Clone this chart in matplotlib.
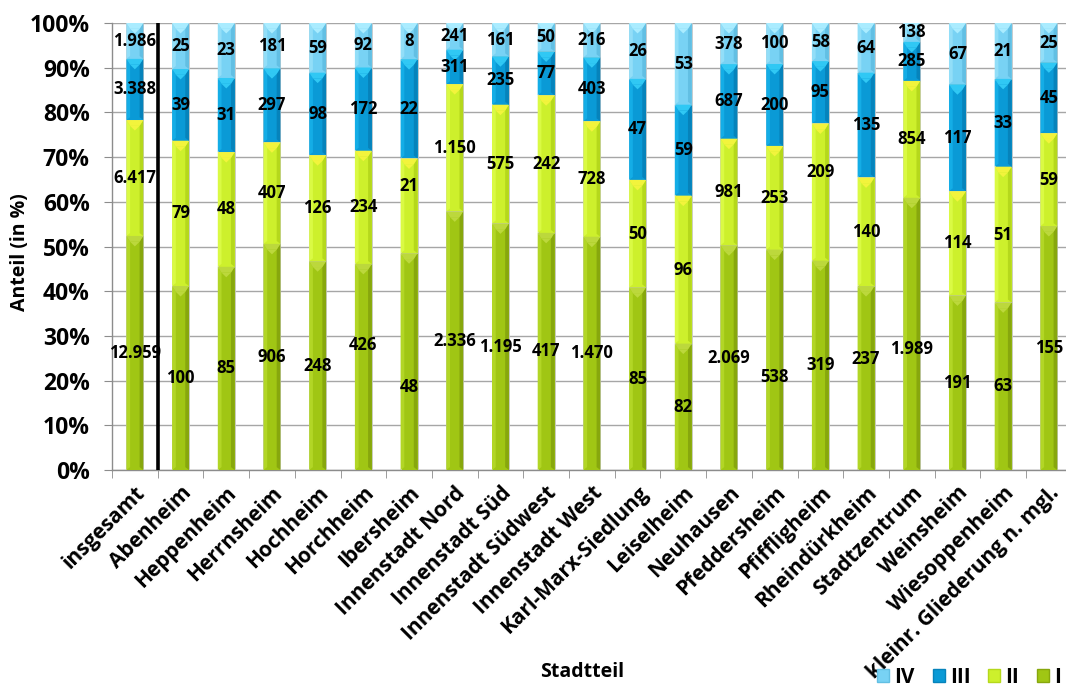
import matplotlib
matplotlib.use("Agg")
import matplotlib.pyplot as plt
from matplotlib.patches import Polygon, Patch

plt.rcParams['font.family'] = ['Open Sans', 'DejaVu Sans']
plt.rcParams['font.weight'] = 'bold'

districts = [
    "insgesamt", "Abenheim", "Heppenheim", "Herrnsheim", "Hochheim", "Horchheim",
    "Ibersheim", "Innenstadt Nord", "Innenstadt Süd", "Innenstadt Südwest",
    "Innenstadt West", "Karl-Marx-Siedlung", "Leiselheim", "Neuhausen",
    "Pfeddersheim", "Pfiffligheim", "Rheindürkheim", "Stadtzentrum", "Weinsheim",
    "Wiesoppenheim", "kleinr. Gliederung n. mgl.",
]
klasse_I = [12959, 100, 85, 906, 248, 426, 48, 2336, 1195, 417, 1470, 85, 82,
            2069, 538, 319, 237, 1989, 191, 63, 155]
klasse_II = [6417, 79, 48, 407, 126, 234, 21, 1150, 575, 242, 728, 50, 96,
             981, 253, 209, 140, 854, 114, 51, 59]
klasse_III = [3388, 39, 31, 297, 98, 172, 22, 311, 235, 77, 403, 47, 59,
              687, 200, 95, 135, 285, 117, 33, 45]
klasse_IV = [1986, 25, 23, 181, 59, 92, 8, 241, 161, 50, 216, 26, 53,
             378, 100, 58, 64, 138, 67, 21, 25]
series_names = ["I", "II", "III", "IV"]
series_values = [klasse_I, klasse_II, klasse_III, klasse_IV]

# base, light side, dark side, top facet
palette = {
    "I":   ("#a0c614", "#b2d626", "#87a70d", "#bcd83c"),
    "II":  ("#cdf02c", "#dafa44", "#b5d81c", "#f2f43c"),
    "III": ("#0a9ad6", "#14ade6", "#0683bb", "#30c8f4"),
    "IV":  ("#78d2f4", "#92def8", "#62bfe3", "#aaecff"),
}

# labels nudged away from the segment centre (position in % of the bar)
label_nudge = {(5, "I"): 28.0, (6, "I"): 18.5, (14, "I"): 20.7,
               (16, "I"): 24.9, (17, "I"): 27.1,
               (6, "II"): 63.6, (15, "II"): 66.6}


def fmt(v):
    return f"{v:,}".replace(",", ".")


totals = [sum(s[i] for s in series_values) for i in range(len(districts))]

fig = plt.figure(figsize=(10.66, 6.86), dpi=100)
ax = fig.add_axes([112 / 1066, 216 / 686, 959.7 / 1066, 447 / 686])

x = list(range(len(districts)))
width = 0.37
bottoms = [0.0] * len(districts)
for name, vals in zip(series_names, series_values):
    base, light, dark, top = palette[name]
    shares = [100.0 * v / t for v, t in zip(vals, totals)]
    bars = ax.bar(x, shares, width, bottom=bottoms, color=base,
                  edgecolor="#c8c8c8", linewidth=0.6, zorder=3)
    for i, rect in enumerate(bars):
        x0, y0 = rect.get_x(), rect.get_y()
        w, h = rect.get_width(), rect.get_height()
        bw = w * 0.22
        th = min(1.3, h * 0.45)
        ax.add_patch(Polygon([(x0, y0), (x0 + bw, y0 + th * 0.5), (x0 + bw, y0 + h - th),
                              (x0, y0 + h)], closed=True, facecolor=light,
                             edgecolor="none", zorder=4))
        ax.add_patch(Polygon([(x0 + w, y0), (x0 + w - bw, y0 + th * 0.5),
                              (x0 + w - bw, y0 + h - th), (x0 + w, y0 + h)], closed=True,
                             facecolor=dark, edgecolor="none", zorder=4))
        ax.add_patch(Polygon([(x0, y0 + h), (x0 + w, y0 + h), (x0 + w - bw, y0 + h - th),
                              (x0 + bw, y0 + h - th)], closed=True, facecolor=top,
                             edgecolor="none", zorder=4))
        ax.add_patch(Polygon([(x0 + bw, y0 + h - th), (x0 + w - bw, y0 + h - th),
                              (x0 + w / 2, y0 + h - th * 1.8)], closed=True,
                             facecolor=top, edgecolor="none", zorder=4))
        ypos = label_nudge.get((i, name), y0 + h / 2)
        ax.text(rect.get_x() + w / 2, ypos, fmt(vals[i]), ha="center", va="center",
                fontsize=12, fontweight="bold", color="black", zorder=6)
    bottoms = [b + s for b, s in zip(bottoms, shares)]

# separator between the city total and the districts
ax.axvline(0.5, color="black", linewidth=2.6, zorder=5)

ax.set_xlim(-0.5, len(districts) - 0.5)
ax.set_ylim(0, 100)
ax.set_yticks(range(0, 101, 10))
ax.set_yticklabels([f"{v}%" for v in range(0, 101, 10)], fontsize=16.5,
                   fontweight="bold")
ax.yaxis.grid(True, color="#a6a6a6", linewidth=1.0, zorder=0)
ax.set_axisbelow(True)

ax.set_xticks(x)
ax.set_xticklabels(districts, rotation=45, ha="right", rotation_mode="anchor",
                   fontsize=15, fontweight="bold")
ax.set_xticks([i - 0.5 for i in range(len(districts) + 1)], minor=True)
ax.tick_params(axis="x", which="major", length=0, pad=9)
ax.tick_params(axis="x", which="minor", length=6, color="#8c8c8c", direction="out")
ax.tick_params(axis="y", length=6, color="#8c8c8c", pad=10)

for side in ("top", "right"):
    ax.spines[side].set_visible(False)
for side in ("left", "bottom"):
    ax.spines[side].set_color("#8c8c8c")
    ax.spines[side].set_linewidth(1.0)

fig.text(20 / 1066, 1 - 252 / 686, "Anteil (in %)", rotation=90, ha="center",
         va="center", fontsize=14, fontweight="bold")
fig.text(582 / 1066, 1 - 672 / 686, "Stadtteil", ha="center", va="center",
         fontsize=14, fontweight="bold")

handles = [Patch(facecolor=palette[n][0], edgecolor=palette[n][2]) for n in
           reversed(series_names)]
fig.legend(handles, list(reversed(series_names)), loc="lower right",
           bbox_to_anchor=(1.013, -0.03), ncol=4, frameon=False,
           prop={"size": 15, "weight": "bold"}, handlelength=0.58,
           handleheight=0.58, handletextpad=0.25, columnspacing=0.85)

fig.savefig("out.png", dpi=100)
